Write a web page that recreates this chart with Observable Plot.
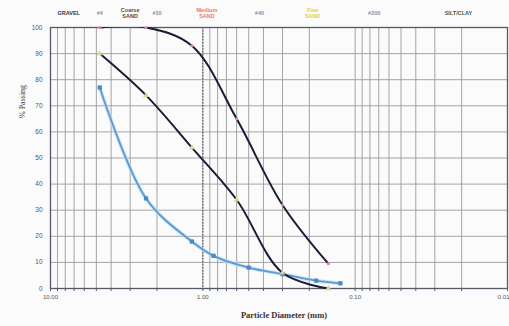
<!DOCTYPE html>
<html>
<head>
<meta charset="utf-8">
<script src="https://cdn.jsdelivr.net/npm/d3@7"></script>
<script src="https://cdn.jsdelivr.net/npm/@observablehq/plot@0.6"></script>
<style>
  html, body { margin: 0; padding: 0; background: #fbfbfb; }
  #chart { width: 509px; height: 326px; }
</style>
</head>
<body>
<div id="chart"></div>
<script>
// Sieve sizes (mm) and % passing for the three samples
const sizesA = [4.75, 2.36, 1.18, 0.6, 0.3, 0.15];
const passA  = [100, 100, 93, 65, 32, 9.5];
const sizesB = [4.75, 2.36, 1.18, 0.6, 0.3, 0.15];
const passB  = [90, 74, 54, 34, 6, 0];
const sizesC = [4.75, 2.36, 1.18, 0.85, 0.5, 0.3, 0.18, 0.125];
const passC  = [77, 34.5, 18, 12.5, 8, 5.5, 3, 2];

// Axis ticks
const xTickValues = [10, 1, 0.1];
const xTickLabels = ["10.00", "1.00", "0.10"];
const xLastTick = [0.01];
const xLastLabel = "0.01";
const yTickValues = [0, 10, 20, 30, 40, 50, 60, 70, 80, 90, 100];
const gridSizes = [
  10, 9, 8, 7, 6, 5, 4, 3, 2,
  1, 0.9, 0.8, 0.7, 0.6, 0.5, 0.4, 0.3, 0.2,
  0.1, 0.09, 0.08, 0.07, 0.06, 0.05, 0.04, 0.03, 0.02, 0.01
];

// Soil classification header (label, size in mm where it sits)
const headerLabels = ["GRAVEL", "#4", "Coarse\nSAND", "#10", "Medium\nSAND", "#40", "Fine\nSAND", "#200", "SILT/CLAY"];
const headerSizes  = [7.6, 4.75, 3.0, 2.0, 0.94, 0.425, 0.19, 0.075, 0.021];
const headerColors = ["#2c3350", "#8a8fa0", "#5a4848", "#8a8fa0", "#ee7a5c", "#8a8fa0", "#e6cf3a", "#8a8fa0", "#3e5a52"];

const mk = (s, p) => s.map((d, i) => ({d, p: p[i]}));
const dataA = mk(sizesA, passA);
const dataB = mk(sizesB, passB);
const dataC = mk(sizesC, passC);
const header = headerLabels.map((t, i) => ({t, d: headerSizes[i], c: headerColors[i]}));

const chart = Plot.plot({
  width: 509,
  height: 326,
  marginLeft: 50,
  marginRight: 2,
  marginTop: 27,
  marginBottom: 38,
  style: {background: "#fbfbfb", fontFamily: "'Liberation Sans', Arial, sans-serif"},
  x: {type: "log", domain: [10, 0.01]},
  y: {domain: [0, 100]},
  marks: [
    Plot.ruleX(gridSizes, {stroke: "#9a9a9a", strokeWidth: 0.9}),
    Plot.ruleY(yTickValues, {stroke: "#9a9a9a", strokeWidth: 0.9}),
    Plot.ruleX([1], {stroke: "#4a4a5a", strokeWidth: 1, strokeDasharray: "1.5,1.5"}),
    Plot.frame({stroke: "#555a66", strokeWidth: 1.3}),
    Plot.axisX({ticks: gridSizes, tickSize: 3, tickFormat: () => "", stroke: "#555a66", label: null}),
    Plot.axisX({ticks: xTickValues, tickSize: 0, tickPadding: 6, fontSize: 6,
      tickFormat: d => xTickLabels[xTickValues.indexOf(d)], fill: "#555", label: null}),
    Plot.text(xLastTick, {x: d => d, text: () => xLastLabel, frameAnchor: "bottom", dy: 10,
      textAnchor: "end", dx: 2, fontSize: 6, fill: "#555"}),
    Plot.axisY({ticks: yTickValues, tickSize: 0, tickPadding: 8, fontSize: 6.5, fill: "#555", label: null}),
    Plot.text(["Particle Diameter (mm)"], {frameAnchor: "bottom", dx: 5, dy: 29,
      fontFamily: "'Liberation Serif', 'Times New Roman', serif", fontWeight: "bold", fontSize: 8.5, fill: "#333"}),
    Plot.text(["% Passing"], {frameAnchor: "left", rotate: -90, dx: -28, dy: -40,
      fontFamily: "'Liberation Serif', 'Times New Roman', serif", fontSize: 8, fill: "#444"}),
    Plot.text(header, {x: "d", text: "t", fill: "c", frameAnchor: "top", dy: -14.5,
      fontSize: 5.5, lineHeight: 1.2, lineAnchor: "middle", fontWeight: "bold"}),
    // blue sample
    Plot.line(dataC, {x: "d", y: "p", curve: "catmull-rom", stroke: "#bfdcf2", strokeWidth: 4, strokeOpacity: 0.7}),
    Plot.line(dataC, {x: "d", y: "p", curve: "catmull-rom", stroke: "#5b9bd2", strokeWidth: 1.8}),
    Plot.dot(dataC, {x: "d", y: "p", symbol: "square", r: 2.4, fill: "#4a88c6", stroke: "none"}),
    // dark samples
    Plot.line(dataB, {x: "d", y: "p", curve: "catmull-rom", stroke: "#1c1c3a", strokeWidth: 2}),
    Plot.dot(dataB, {x: "d", y: "p", symbol: "triangle", r: 2.2, fill: "#d8d592", stroke: "none"}),
    Plot.line(dataA, {x: "d", y: "p", curve: "catmull-rom", stroke: "#1c1c3a", strokeWidth: 2, clip: true}),
    Plot.dot(dataA, {x: "d", y: "p", r: 1.6, fill: "#d98aa0", stroke: "none"})
  ]
});
document.getElementById("chart").appendChild(chart);
</script>
</body>
</html>
